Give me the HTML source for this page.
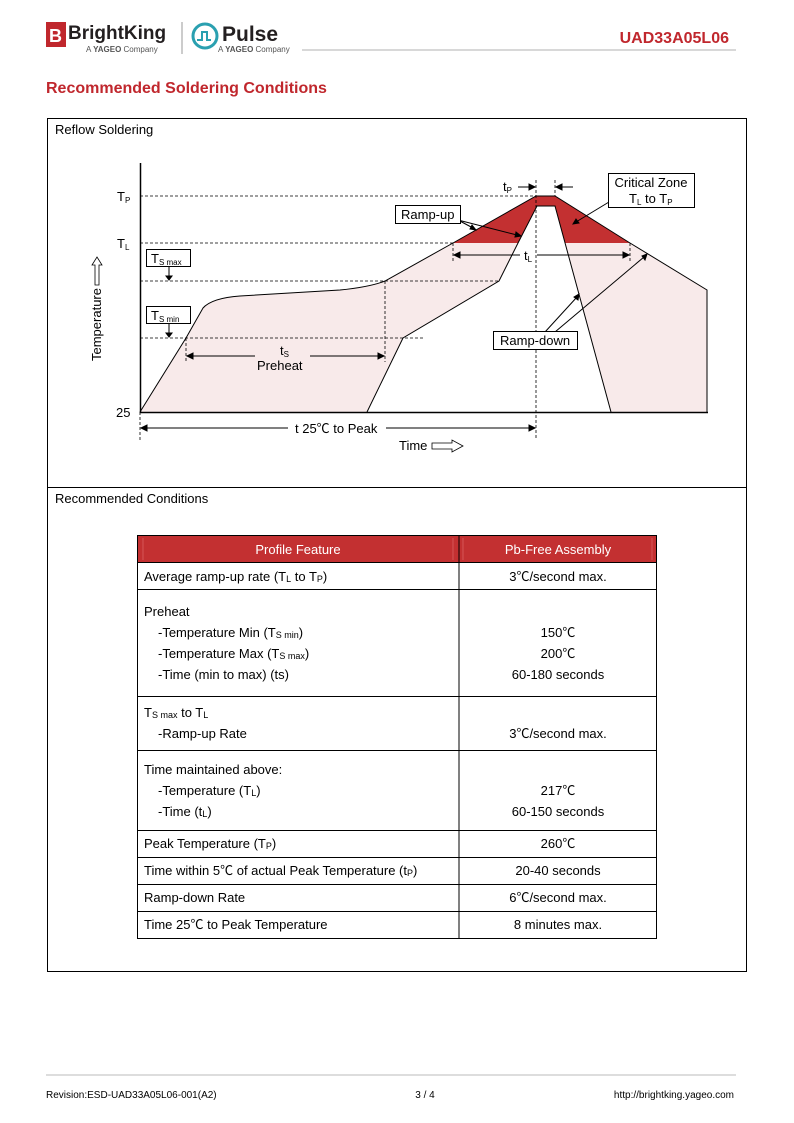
<!DOCTYPE html>
<html><head><meta charset="utf-8"><style>
html,body{margin:0;padding:0;background:#fff}
svg{display:block}
text{font-family:"Liberation Sans","Noto Sans CJK SC",sans-serif}
</style></head><body>
<svg width="794" height="1123" viewBox="0 0 794 1123" xmlns="http://www.w3.org/2000/svg">
<!-- header -->
<rect x="46" y="22" width="20" height="25" fill="#c0272d"/>
<text x="49" y="42" font-size="18" font-weight="bold" fill="#fff">B</text>
<text x="68" y="39" font-size="19" font-weight="bold" fill="#231f20">BrightKing</text>
<text x="86" y="52" font-size="8" fill="#555">A <tspan font-weight="bold">YAGEO</tspan> Company</text>
<line x1="182" y1="22" x2="182" y2="54" stroke="#bbb" stroke-width="1.5"/>
<circle cx="205" cy="36" r="12" fill="none" stroke="#2aa0b0" stroke-width="3"/>
<path d="M197 40 h5 v-8 h5 v8 h4" fill="none" stroke="#2aa0b0" stroke-width="2"/>
<text x="222" y="41" font-size="21" font-weight="bold" fill="#231f20">Pulse</text>
<text x="218" y="52" font-size="8" fill="#555">A <tspan font-weight="bold">YAGEO</tspan> Company</text>
<line x1="302" y1="50" x2="736" y2="50" stroke="#ccc" stroke-width="1.5"/>
<text x="729" y="43" font-size="16" font-weight="bold" fill="#c0272d" text-anchor="end">UAD33A05L06</text>
<text x="46" y="93" font-size="16" font-weight="bold" fill="#c0272d">Recommended Soldering Conditions</text>

<!-- outer box -->
<rect x="47.5" y="118.5" width="699" height="853" fill="none" stroke="#000" stroke-width="1"/>
<line x1="47" y1="487.5" x2="747" y2="487.5" stroke="#000"/>
<text x="55" y="134" font-size="13">Reflow Soldering</text>
<text x="55" y="503" font-size="13">Recommended Conditions</text>

<!-- chart fills -->
<path d="M140 412 L186 338 L203 308 Q212 298 240 296 L340 290 Q370 287 385 281 L453 243 L536 196 L555 196 L630 243 L707 290 L707 412 L611 412 L555 206 L537 206 L518 243 L499 281 L403 338 L367 412 Z" fill="#f8eaea"/>
<path d="M453 243 L536 196 L555 196 L630 243 L565 243 L555 206 L537 206 L518 243 Z" fill="#c33031"/>
<path d="M140 412 L186 338 L203 308 Q212 298 240 296 L340 290 Q370 287 385 281 L453 243 L536 196 L555 196 L630 243 L707 290 L707 412" fill="none" stroke="#000" stroke-width="1"/>
<path d="M367 412 L403 338 L499 281 L518 243 L537 206 L555 206 L611 412" fill="none" stroke="#000" stroke-width="1"/>
<!-- axes -->
<line x1="140.5" y1="163" x2="140.5" y2="413" stroke="#000" stroke-width="1.5"/>
<line x1="140" y1="412.5" x2="708" y2="412.5" stroke="#000" stroke-width="1.5"/>
<!-- dashed levels -->
<g stroke="#000" stroke-dasharray="3,2" stroke-width="0.8">
<line x1="140" y1="196" x2="536" y2="196"/>
<line x1="140" y1="243" x2="453" y2="243"/>
<line x1="140" y1="281" x2="499" y2="281"/>
<line x1="140" y1="338" x2="423" y2="338"/>
<line x1="536" y1="180" x2="536" y2="440"/>
<line x1="555" y1="180" x2="555" y2="196"/>
<line x1="140" y1="412" x2="140" y2="440"/>
<line x1="186" y1="338" x2="186" y2="362"/>
<line x1="385" y1="281" x2="385" y2="362"/>
<line x1="453" y1="243" x2="453" y2="262"/>
<line x1="630" y1="243" x2="630" y2="262"/>
</g>
<text x="117" y="201" font-size="13">T<tspan font-size="8" dy="2">P</tspan></text>
<text x="117" y="248" font-size="13">T<tspan font-size="8" dy="2">L</tspan></text>
<text x="116" y="417" font-size="13">25</text>
<!-- Temperature label -->
<text transform="translate(101,361) rotate(-90)" font-size="13">Temperature</text>
<path d="M95 285 h4 v-20 h3 l-5 -8 l-5 8 h3 v20 z" fill="#fff" stroke="#000" stroke-width="0.8"/>
<!-- Ts boxes -->
<rect x="146.5" y="249.5" width="44" height="17" fill="#fff" stroke="#000"/>
<text x="151" y="263" font-size="13">T<tspan font-size="8" dy="2">S max</tspan></text>
<rect x="146.5" y="306.5" width="44" height="17" fill="#fff" stroke="#000"/>
<text x="151" y="320" font-size="13">T<tspan font-size="8" dy="2">S min</tspan></text>
<g stroke="#000" fill="#000">
<line x1="169" y1="267" x2="169" y2="276"/><path d="M166 276 h6 l-3 4z"/>
<line x1="169" y1="324" x2="169" y2="333"/><path d="M166 333 h6 l-3 4z"/>
<line x1="190" y1="356" x2="255" y2="356"/><path d="M187 356 l6 -3 v6z"/>
<line x1="310" y1="356" x2="380" y2="356"/><path d="M384 356 l-6 -3 v6z"/>
<line x1="144" y1="428" x2="288" y2="428"/><path d="M141 428 l6 -3 v6z"/>
<line x1="386" y1="428" x2="532" y2="428"/><path d="M535 428 l-6 -3 v6z"/>
<line x1="457" y1="255" x2="520" y2="255"/><path d="M454 255 l6 -3 v6z"/>
<line x1="537" y1="255" x2="626" y2="255"/><path d="M629 255 l-6 -3 v6z"/>
<line x1="518" y1="187" x2="531" y2="187"/><path d="M535 187 l-6 -3 v6z"/>
<line x1="560" y1="187" x2="573" y2="187"/><path d="M556 187 l6 -3 v6z"/>
<line x1="458" y1="220" x2="473" y2="228"/><path d="M476 230 l-6 -1 l2 -4z"/>
<line x1="458" y1="220" x2="517" y2="235"/><path d="M521 236 l-6 1 l1 -5z"/>
<line x1="609" y1="202" x2="576" y2="222"/><path d="M573 224 l3 -5 l3 4z"/>
<line x1="545" y1="332" x2="577" y2="297"/><path d="M579 294 l-1 6 l-4 -3z"/>
<line x1="555" y1="332" x2="644" y2="257"/><path d="M647 254 l-2 6 l-3 -4z"/>
</g>
<text x="280" y="355" font-size="13">t<tspan font-size="8" dy="2">S</tspan></text>
<text x="257" y="370" font-size="13">Preheat</text>
<text x="295" y="433" font-size="13">t 25℃ to Peak</text>
<text x="399" y="450" font-size="13">Time</text>
<path d="M432 443 h20 v-3 l11 6 l-11 6 v-3 h-20z" fill="#fff" stroke="#000" stroke-width="0.8"/>
<text x="524" y="260" font-size="13">t<tspan font-size="8" dy="2">L</tspan></text>
<text x="503" y="191" font-size="13">t<tspan font-size="8" dy="2">P</tspan></text>
<rect x="395.5" y="205.5" width="65" height="18" fill="#fff" stroke="#000"/>
<text x="401" y="219" font-size="13">Ramp-up</text>
<rect x="608.5" y="173.5" width="86" height="34" fill="#fff" stroke="#000"/>
<text x="651" y="187" font-size="13" text-anchor="middle">Critical Zone</text>
<text x="629" y="203" font-size="13">T<tspan font-size="8" dy="2">L</tspan><tspan dy="-2"> to T</tspan><tspan font-size="8" dy="2">P</tspan></text>
<rect x="493.5" y="331.5" width="84" height="18" fill="#fff" stroke="#000"/>
<text x="500" y="345" font-size="13">Ramp-down</text>

<!-- table -->
<rect x="137" y="536" width="520" height="26" fill="#c33031"/>
<line x1="143" y1="538" x2="143" y2="560" stroke="#e07070" stroke-width="0.6"/>
<line x1="463" y1="538" x2="463" y2="560" stroke="#e07070" stroke-width="0.6"/>
<line x1="453" y1="538" x2="453" y2="560" stroke="#e07070" stroke-width="0.6"/>
<line x1="652" y1="538" x2="652" y2="560" stroke="#e07070" stroke-width="0.6"/>
<text x="298" y="554" font-size="13" fill="#fff" text-anchor="middle">Profile Feature</text>
<text x="558" y="554" font-size="13" fill="#fff" text-anchor="middle">Pb-Free Assembly</text>
<g stroke="#000" stroke-width="1">
<line x1="137" y1="535.5" x2="657" y2="535.5"/>
<line x1="137.5" y1="535" x2="137.5" y2="938"/>
<line x1="656.5" y1="535" x2="656.5" y2="938"/>
<line x1="459" y1="535" x2="459" y2="938"/>
<line x1="137" y1="562.5" x2="657" y2="562.5"/>
<line x1="137" y1="589.5" x2="657" y2="589.5"/>
<line x1="137" y1="696.5" x2="657" y2="696.5"/>
<line x1="137" y1="750.5" x2="657" y2="750.5"/>
<line x1="137" y1="830.5" x2="657" y2="830.5"/>
<line x1="137" y1="857.5" x2="657" y2="857.5"/>
<line x1="137" y1="884.5" x2="657" y2="884.5"/>
<line x1="137" y1="911.5" x2="657" y2="911.5"/>
<line x1="137" y1="938.5" x2="657" y2="938.5"/>
</g>
<g font-size="13">
<text x="144" y="581">Average ramp-up rate (T<tspan font-size="9" dy="1">L</tspan><tspan dy="-1"> to T</tspan><tspan font-size="9" dy="1">P</tspan><tspan dy="-1">)</tspan></text>
<text x="558" y="581" text-anchor="middle">3℃/second max.</text>
<text x="144" y="616">Preheat</text>
<text x="158" y="637">-Temperature Min (T<tspan font-size="9" dy="1">S min</tspan><tspan dy="-1">)</tspan></text>
<text x="158" y="658">-Temperature Max (T<tspan font-size="9" dy="1">S max</tspan><tspan dy="-1">)</tspan></text>
<text x="158" y="679">-Time (min to max) (ts)</text>
<text x="558" y="637" text-anchor="middle">150℃</text>
<text x="558" y="658" text-anchor="middle">200℃</text>
<text x="558" y="679" text-anchor="middle">60-180 seconds</text>
<text x="144" y="717">T<tspan font-size="9" dy="1">S max</tspan><tspan dy="-1"> to T</tspan><tspan font-size="9" dy="1">L</tspan></text>
<text x="158" y="738">-Ramp-up Rate</text>
<text x="558" y="738" text-anchor="middle">3℃/second max.</text>
<text x="144" y="774">Time maintained above:</text>
<text x="158" y="795">-Temperature (T<tspan font-size="9" dy="1">L</tspan><tspan dy="-1">)</tspan></text>
<text x="158" y="816">-Time (t<tspan font-size="9" dy="1">L</tspan><tspan dy="-1">)</tspan></text>
<text x="558" y="795" text-anchor="middle">217℃</text>
<text x="558" y="816" text-anchor="middle">60-150 seconds</text>
<text x="144" y="848">Peak Temperature (T<tspan font-size="9" dy="1">P</tspan><tspan dy="-1">)</tspan></text>
<text x="558" y="848" text-anchor="middle">260℃</text>
<text x="144" y="875">Time within 5℃ of actual Peak Temperature (t<tspan font-size="9" dy="1">P</tspan><tspan dy="-1">)</tspan></text>
<text x="558" y="875" text-anchor="middle">20-40 seconds</text>
<text x="144" y="902">Ramp-down Rate</text>
<text x="558" y="902" text-anchor="middle">6℃/second max.</text>
<text x="144" y="929">Time 25℃ to Peak Temperature</text>
<text x="558" y="929" text-anchor="middle">8 minutes max.</text>
</g>

<!-- footer -->
<line x1="46" y1="1075" x2="736" y2="1075" stroke="#bbb" stroke-width="1"/>
<text x="46" y="1098" font-size="10">Revision:ESD-UAD33A05L06-001(A2)</text>
<text x="425" y="1098" font-size="10" text-anchor="middle">3 / 4</text>
<text x="734" y="1098" font-size="10" text-anchor="end">http://brightking.yageo.com</text>
</svg>
</body></html>
